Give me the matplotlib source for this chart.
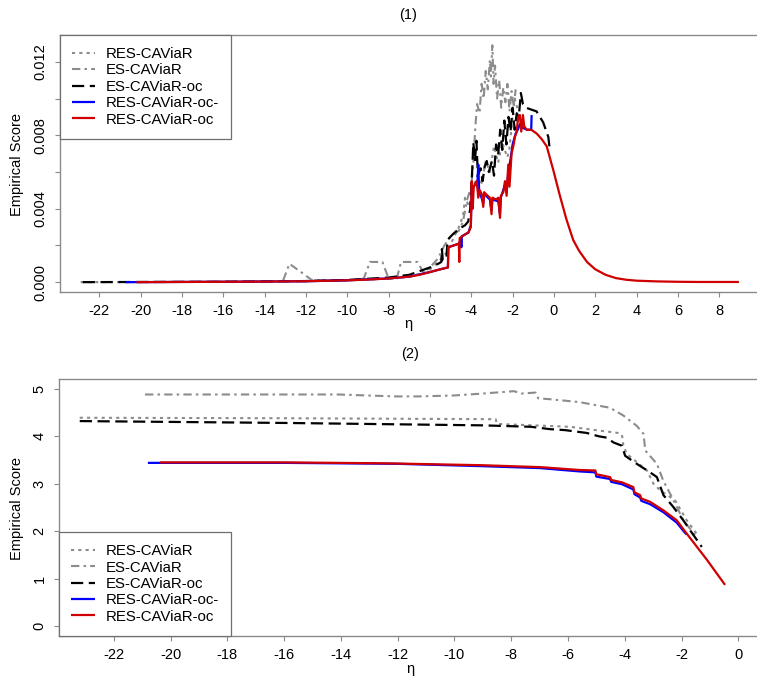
import matplotlib
matplotlib.use("Agg")
import matplotlib.pyplot as plt
from matplotlib.ticker import FixedLocator, FixedFormatter

plt.rcParams["font.family"] = ["Liberation Sans", "DejaVu Sans"]
plt.rcParams["font.size"] = 10.5

# ---------------- data: panel (1) ----------------
p1_res_caviar_eta = [-22.9, -18, -14, -10, -8, -7, -6.3, -6.0, -5.6, -5.2, -4.9, -4.6, -4.4, -4.3,
                     -4.1, -3.9, -3.7, -3.5, -3.3, -3.1, -2.9, -2.7, -2.5, -2.35, -2.25, -2.15,
                     -2.0, -1.9, -1.75]
p1_res_caviar_score = [0.0, 0.00001, 0.00003, 0.0001, 0.0002, 0.0003, 0.0005, 0.0007, 0.0011,
                       0.0016, 0.0023, 0.0030, 0.0036, 0.0046, 0.0041, 0.0052, 0.0058, 0.0054,
                       0.0066, 0.0060, 0.0074, 0.0065, 0.0076, 0.0071, 0.0068, 0.0073, 0.0090,
                       0.0100, 0.0094]

p1_es_caviar_eta = [-13.1, -12.8, -12.3, -11.7, -10.0, -9.2, -8.9, -8.3, -8.0, -7.6, -7.4, -6.6,
                    -6.3, -6.0, -5.6, -5.3, -5.0, -4.6, -4.4, -4.2, -4.0, -3.9, -3.8, -3.72,
                    -3.6, -3.5, -3.4, -3.3, -3.2, -3.1, -3.05, -2.98, -2.92, -2.85, -2.75,
                    -2.65, -2.55, -2.45, -2.35, -2.25, -2.15, -2.05, -1.95, -1.85]
p1_es_caviar_score = [0.0001, 0.0010, 0.0006, 0.0001, 0.0001, 0.0002, 0.0011, 0.0011, 0.0002,
                      0.0002, 0.0011, 0.0011, 0.0005, 0.0008, 0.0013, 0.0020, 0.0025, 0.0028,
                      0.0033, 0.0045, 0.0052, 0.0065, 0.0085, 0.0097, 0.0092, 0.0108, 0.0100,
                      0.0115, 0.0105, 0.0121, 0.0112, 0.0129, 0.0108, 0.0118, 0.0100, 0.0110,
                      0.0095, 0.0106, 0.0098, 0.0108, 0.0093, 0.0104, 0.0096, 0.0105]

p1_es_caviar_oc_eta = [-22.8, -20, -16, -12, -10, -8, -7, -6.5, -6.0, -5.6, -5.45, -5.42, -5.38,
                       -5.2, -5.15, -4.9, -4.6, -4.3, -4.15, -4.05, -3.95, -3.90, -3.82, -3.75,
                       -3.68, -3.55, -3.45, -3.35, -3.25, -3.15, -3.0, -2.9, -2.8, -2.7, -2.6,
                       -2.5, -2.4, -2.3, -2.2, -2.1, -2.0, -1.9, -1.8, -1.7, -1.6, -1.5, -1.35,
                       -1.1, -0.84, -0.52, -0.27, -0.19]
p1_es_caviar_oc_score = [0.0, 0.00001, 0.00002, 0.00006, 0.00012, 0.00025, 0.0004, 0.0006,
                         0.0008, 0.0010, 0.0011, 0.0018, 0.0012, 0.0013, 0.0023, 0.0026, 0.0029,
                         0.0031, 0.0033, 0.0040, 0.0062, 0.0076, 0.0066, 0.0077, 0.0058, 0.0062,
                         0.0055, 0.0063, 0.0066, 0.0060, 0.0066, 0.0058, 0.0075, 0.0069, 0.0083,
                         0.0072, 0.0088, 0.0075, 0.0090, 0.0082, 0.0095, 0.0083, 0.0092, 0.0090,
                         0.0103, 0.0097, 0.0095, 0.0094, 0.0093, 0.0087, 0.0079, 0.0071]

p1_res_caviar_ocm_eta = [-20.7, -16, -12, -10, -8, -7, -6, -5.5, -5.13, -5.11, -4.58, -4.50,
                         -4.48, -4.46, -4.14, -4.02, -3.98, -3.88, -3.70, -3.66, -3.62, -3.42,
                         -3.38, -3.10, -3.02, -2.98, -2.69, -2.61, -2.57, -2.37, -2.29, -2.21,
                         -2.10, -2.00, -1.85, -1.75, -1.65, -1.50, -1.30, -1.10, -1.08]
p1_res_caviar_ocm_score = [0.0, 0.00002, 0.00005, 0.0001, 0.0002, 0.0003, 0.00055, 0.0007,
                           0.0008, 0.0019, 0.0021, 0.0024, 0.0019, 0.0025, 0.0027, 0.0031,
                           0.0050, 0.0052, 0.0055, 0.0064, 0.0050, 0.0043, 0.0048, 0.0045,
                           0.0039, 0.0045, 0.0044, 0.0037, 0.0046, 0.0053, 0.0049, 0.0060,
                           0.0067, 0.0075, 0.0081, 0.0083, 0.0086, 0.0084, 0.0083, 0.0083,
                           0.0091]

p1_res_caviar_oc_eta = [-20.2, -18, -16, -14, -12, -10, -9, -8, -7, -6.5, -6, -5.5, -5.13, -5.11,
                        -4.60, -4.58, -4.56, -4.3, -4.14, -4.02, -3.98, -3.93, -3.88, -3.74,
                        -3.66, -3.58, -3.50, -3.42, -3.38, -3.20, -3.10, -3.02, -2.98, -2.80,
                        -2.69, -2.61, -2.57, -2.45, -2.37, -2.29, -2.21, -2.15, -2.05, -1.95,
                        -1.89, -1.80, -1.73, -1.65, -1.58, -1.50, -1.44, -1.32, -1.10, -0.84,
                        -0.60, -0.35, -0.03, 0.29, 0.61, 0.93, 1.22, 1.6, 2.0, 2.5, 3.0, 3.5,
                        4.0, 5.0, 6.0, 7.0, 8.95]
p1_res_caviar_oc_score = [0.0, 0.00001, 0.00002, 0.00003, 0.00005, 0.0001, 0.00014, 0.0002,
                          0.0003, 0.0004, 0.00055, 0.0007, 0.0008, 0.0019, 0.0021, 0.0011,
                          0.0024, 0.0026, 0.0027, 0.0030, 0.0055, 0.0040, 0.0052, 0.0055,
                          0.0046, 0.0050, 0.0048, 0.0041, 0.0049, 0.0047, 0.0046, 0.0037,
                          0.0046, 0.0045, 0.0046, 0.0035, 0.0047, 0.0049, 0.0055, 0.0047,
                          0.0064, 0.0052, 0.0070, 0.0075, 0.0079, 0.0082, 0.0090, 0.0091,
                          0.0082, 0.0091, 0.0085, 0.0083, 0.0083, 0.0081, 0.0078, 0.0074,
                          0.0061, 0.0047, 0.0034, 0.0023, 0.0017, 0.0011, 0.0007, 0.0004,
                          0.00022, 0.00013, 0.00008, 0.00004, 0.00002, 0.00001, 0.00001]

# ---------------- data: panel (2) ----------------
p2_res_caviar_eta = [-23.2, -16, -8.55, -8.50, -5.94, -4.24, -4.10, -4.05, -3.93, -3.22, -2.99,
                     -2.75, -2.23, -1.82, -1.47]
p2_res_caviar_score = [4.39, 4.38, 4.36, 4.26, 4.20, 4.07, 4.03, 3.80, 3.63, 3.28, 3.00, 2.86,
                       2.65, 2.23, 1.95]

p2_es_caviar_eta = [-20.9, -14.1, -12.1, -11.2, -10.0, -9.0, -7.9, -7.65, -7.14, -7.05, -6.63,
                    -5.6, -4.52, -4.06, -3.58, -3.34, -3.28, -2.87, -2.65, -2.23, -1.94, -1.47]
p2_es_caviar_score = [4.88, 4.88, 4.84, 4.84, 4.86, 4.90, 4.95, 4.90, 4.92, 4.80, 4.78, 4.72,
                      4.60, 4.44, 4.22, 4.05, 3.70, 3.42, 3.07, 2.59, 2.23, 1.88]

p2_es_caviar_oc_eta = [-23.2, -15.85, -9.0, -7.31, -6.63, -6.11, -5.34, -4.92, -4.63, -4.40,
                       -4.10, -3.99, -3.58, -3.11, -2.87, -2.64, -2.29, -1.94, -1.70, -1.29]
p2_es_caviar_oc_score = [4.32, 4.28, 4.23, 4.20, 4.15, 4.13, 4.07, 4.00, 3.97, 3.87, 3.80, 3.59,
                         3.42, 3.24, 3.14, 2.76, 2.51, 2.23, 2.02, 1.67]

p2_res_caviar_ocm_eta = [-20.8, -16, -12, -9, -7, -5.6, -5.04, -5.00, -4.52, -4.48, -4.10, -3.70,
                         -3.66, -3.46, -3.42, -3.11, -2.64, -2.17, -1.90, -1.82]
p2_res_caviar_ocm_score = [3.44, 3.44, 3.42, 3.37, 3.33, 3.26, 3.24, 3.15, 3.10, 3.04, 2.99,
                           2.88, 2.78, 2.71, 2.64, 2.57, 2.40, 2.18, 1.98, 1.93]

p2_res_caviar_oc_eta = [-20.38, -16, -12.4, -9.0, -6.97, -5.6, -5.04, -5.00, -4.52, -4.48, -4.10,
                        -3.70, -3.66, -3.46, -3.42, -3.11, -2.64, -2.17, -1.82, -1.11, -0.47]
p2_res_caviar_oc_score = [3.45, 3.45, 3.43, 3.39, 3.35, 3.29, 3.28, 3.20, 3.14, 3.08, 3.03, 2.93,
                          2.82, 2.76, 2.69, 2.62, 2.44, 2.23, 1.95, 1.40, 0.87]

series_labels = ["RES-CAViaR", "ES-CAViaR", "ES-CAViaR-oc", "RES-CAViaR-oc-", "RES-CAViaR-oc"]

# ---------------- styling ----------------
GRAY = "#8c8c8c"
AXIS_GRAY = "#8a8a8a"
LEGEND_SIZE = 10.8
styles = {
    "RES-CAViaR": dict(color=GRAY, lw=1.5, dashes=(1.5, 2.0)),
    "ES-CAViaR": dict(color=GRAY, lw=1.5, dashes=(4.0, 2.0, 1.2, 2.0)),
    "ES-CAViaR-oc": dict(color="black", lw=1.6, dashes=(5.5, 2.5)),
    "RES-CAViaR-oc-": dict(color="#0000ff", lw=1.6),
    "RES-CAViaR-oc": dict(color="#d00000", lw=1.6),
}

W, H = 757, 682
fig = plt.figure(figsize=(W / 100, H / 100), dpi=100)


def axes_px(left, top, right, bottom):
    return fig.add_axes([left / W, 1 - bottom / H, (right - left) / W, (bottom - top) / H])


def style_axes(ax):
    for sp in ax.spines.values():
        sp.set_color(AXIS_GRAY)
        sp.set_linewidth(1.0)
    ax.tick_params(axis="both", direction="out", length=3.6, width=0.8, color=AXIS_GRAY,
                   labelcolor="black", labelsize=10.5)
    ax.tick_params(axis="x", pad=5.0)
    ax.tick_params(axis="y", pad=5.5, labelrotation=90)
    for lab in ax.get_yticklabels():
        lab.set_va("center")


def draw(ax, data):
    for label, (xs, ys) in zip(series_labels, data):
        ax.plot(xs, ys, label=label, solid_capstyle="butt", dash_capstyle="butt", **styles[label])


def add_legend(ax, loc, anchor):
    leg = ax.legend(loc=loc, bbox_to_anchor=anchor, borderaxespad=0, frameon=True,
                    fancybox=False, edgecolor="#6f6f6f", framealpha=1, handlelength=1.55,
                    handletextpad=0.73, labelspacing=0.16, borderpad=0.8,
                    fontsize=LEGEND_SIZE)
    leg.get_frame().set_linewidth(0.9)


# panel (1)
ax1 = axes_px(60, 35, 766.8, 291.7)
draw(ax1, [
    (p1_res_caviar_eta, p1_res_caviar_score),
    (p1_es_caviar_eta, p1_es_caviar_score),
    (p1_es_caviar_oc_eta, p1_es_caviar_oc_score),
    (p1_res_caviar_ocm_eta, p1_res_caviar_ocm_score),
    (p1_res_caviar_oc_eta, p1_res_caviar_oc_score),
])
ax1.set_xlim(-23.9, 10.3)
ax1.set_ylim(-0.00052, 0.01346)
ax1.xaxis.set_major_locator(FixedLocator(list(range(-22, 9, 2))))
ax1.xaxis.set_major_formatter(FixedFormatter([str(v) for v in range(-22, 9, 2)]))
y1_ticks = [0.0, 0.002, 0.004, 0.006, 0.008, 0.010, 0.012]
y1_labels = ["0.000", "", "0.004", "", "0.008", "", "0.012"]
ax1.yaxis.set_major_locator(FixedLocator(y1_ticks))
ax1.yaxis.set_major_formatter(FixedFormatter(y1_labels))
style_axes(ax1)
add_legend(ax1, "upper left", (0, 1))

# panel (2)
ax2 = axes_px(59.3, 379.3, 764.5, 635.7)
draw(ax2, [
    (p2_res_caviar_eta, p2_res_caviar_score),
    (p2_es_caviar_eta, p2_es_caviar_score),
    (p2_es_caviar_oc_eta, p2_es_caviar_oc_score),
    (p2_res_caviar_ocm_eta, p2_res_caviar_ocm_score),
    (p2_res_caviar_oc_eta, p2_res_caviar_oc_score),
])
ax2.set_xlim(-23.92, 0.92)
ax2.set_ylim(-0.2, 5.2)
ax2.xaxis.set_major_locator(FixedLocator(list(range(-22, 1, 2))))
ax2.xaxis.set_major_formatter(FixedFormatter([str(v) for v in range(-22, 1, 2)]))
ax2.yaxis.set_major_locator(FixedLocator([0, 1, 2, 3, 4, 5]))
ax2.yaxis.set_major_formatter(FixedFormatter(["0", "1", "2", "3", "4", "5"]))
style_axes(ax2)
add_legend(ax2, "lower left", (0, 0))

# titles and axis labels
fig.text(408 / W, 1 - 15 / H, "(1)", ha="center", va="center", fontsize=10.5)
fig.text(408 / W, 1 - 324 / H, "η", ha="center", va="center", fontsize=10.5)
fig.text(17 / W, 1 - 165 / H, "Empirical Score", rotation=90, ha="center", va="center",
         fontsize=10.5)
fig.text(410 / W, 1 - 354 / H, "(2)", ha="center", va="center", fontsize=10.5)
fig.text(410 / W, 1 - 669 / H, "η", ha="center", va="center", fontsize=10.5)
fig.text(17 / W, 1 - 508 / H, "Empirical Score", rotation=90, ha="center", va="center",
         fontsize=10.5)

fig.savefig("out.png", dpi=100, facecolor="white")
